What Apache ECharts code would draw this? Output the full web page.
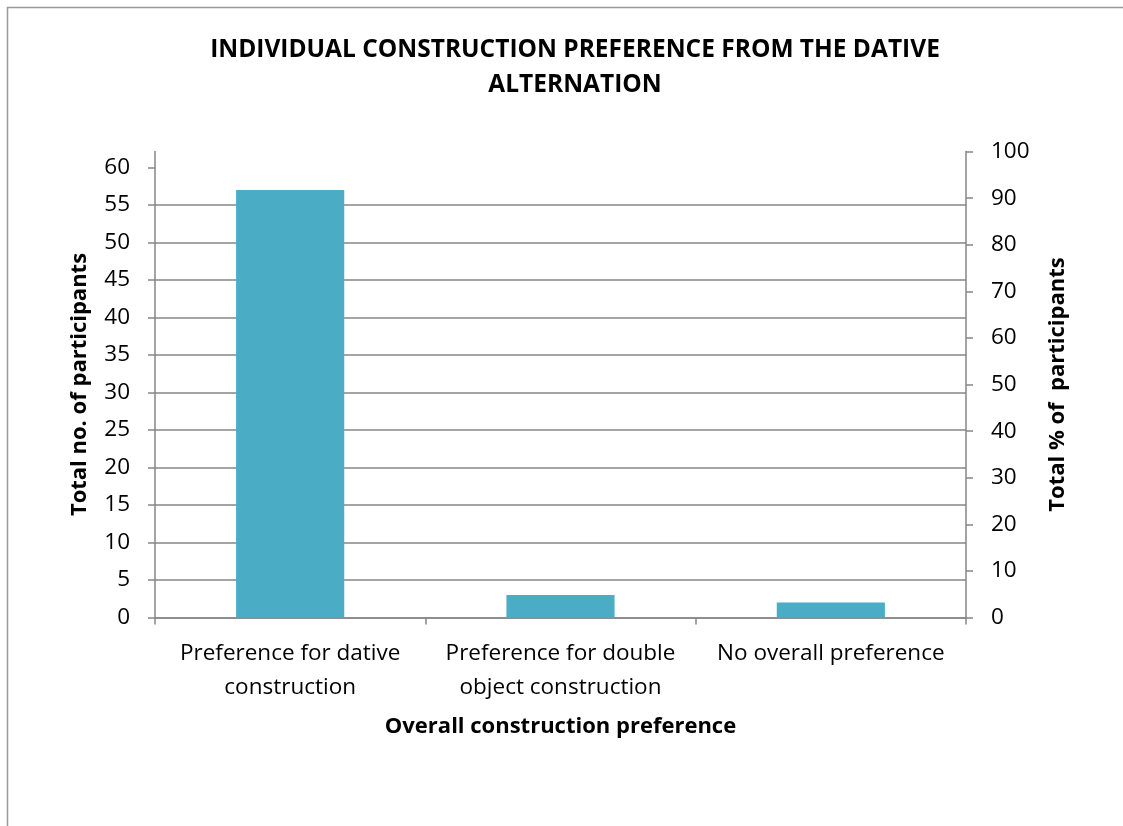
<!DOCTYPE html>
<html>
<head>
<meta charset="utf-8">
<script src="https://cdn.jsdelivr.net/npm/echarts@6/dist/echarts.min.js"></script>
<style>
  html, body { margin: 0; padding: 0; background: #fff; }
  #chart { width: 1123px; height: 826px; }
</style>
</head>
<body>
<div id="chart"></div>
<script>
const categories = [
  "Preference for dative\nconstruction",
  "Preference for double\nobject construction",
  "No overall preference",
];
const participants = [57, 3, 2];
const leftTicks = [0, 5, 10, 15, 20, 25, 30, 35, 40, 45, 50, 55, 60];

const font = "Open Sans";
const grey = "#868686";

const chart = echarts.init(document.getElementById("chart"));
chart.setOption({
  animation: false,
  textStyle: { fontFamily: font },
  graphic: [
    {
      type: "rect",
      shape: { x: 7.5, y: 7.5, width: 1130, height: 830 },
      style: { fill: null, stroke: "#999", lineWidth: 1.5 },
    },
  ],
  title: {
    text: "INDIVIDUAL CONSTRUCTION PREFERENCE FROM THE DATIVE\nALTERNATION",
    left: 570,
    textAlign: "center",
    top: 28,
    textStyle: {
      fontFamily: font,
      fontWeight: "bold",
      fontSize: 24.5,
      lineHeight: 35,
      color: "#000",
    },
  },
  grid: { left: 155, right: 157, top: 151.5, bottom: 208.5 },
  xAxis: {
    type: "category",
    data: categories,
    name: "Overall construction preference",
    nameLocation: "middle",
    nameGap: 98,
    nameTextStyle: { fontFamily: font, fontWeight: "bold", fontSize: 22, color: "#000" },
    axisLine: { lineStyle: { color: grey, width: 1.5 } },
    axisTick: { show: true, length: 7, lineStyle: { color: grey, width: 1.5 } },
    axisLabel: {
      interval: 0,
      margin: 19,
      fontSize: 22.5,
      lineHeight: 34,
      color: "#000",
    },
  },
  yAxis: [
    {
      type: "value",
      min: 0,
      max: 62.13,
      interval: 5,
      name: "Total no. of participants",
      nameLocation: "middle",
      nameGap: 64,
      nameTextStyle: { fontFamily: font, fontWeight: "bold", fontSize: 22, color: "#000" },
      axisLine: { show: true, lineStyle: { color: grey, width: 1.5 } },
      axisTick: { show: true, length: 7, customValues: leftTicks, lineStyle: { color: grey, width: 1.5 } },
      axisLabel: { fontSize: 22.5, color: "#000", margin: 25, customValues: leftTicks },
      splitLine: { show: true, showMaxLine: false, lineStyle: { color: grey, width: 1.5 } },
    },
    {
      type: "value",
      min: 0,
      max: 100,
      interval: 10,
      position: "right",
      name: "Total % of  participants",
      nameLocation: "middle",
      nameGap: 81,
      nameRotate: 90,
      nameTextStyle: { fontFamily: font, fontWeight: "bold", fontSize: 22, color: "#000" },
      axisLine: { show: true, lineStyle: { color: grey, width: 1.5 } },
      axisTick: { show: true, length: 7, lineStyle: { color: grey, width: 1.5 } },
      axisLabel: { fontSize: 22.5, color: "#000", margin: 25 },
      splitLine: { show: false },
    },
  ],
  series: [
    {
      type: "bar",
      data: participants,
      yAxisIndex: 0,
      barWidth: "40%",
      itemStyle: { color: "#4BACC6" },
    },
  ],
});
</script>
</body>
</html>
